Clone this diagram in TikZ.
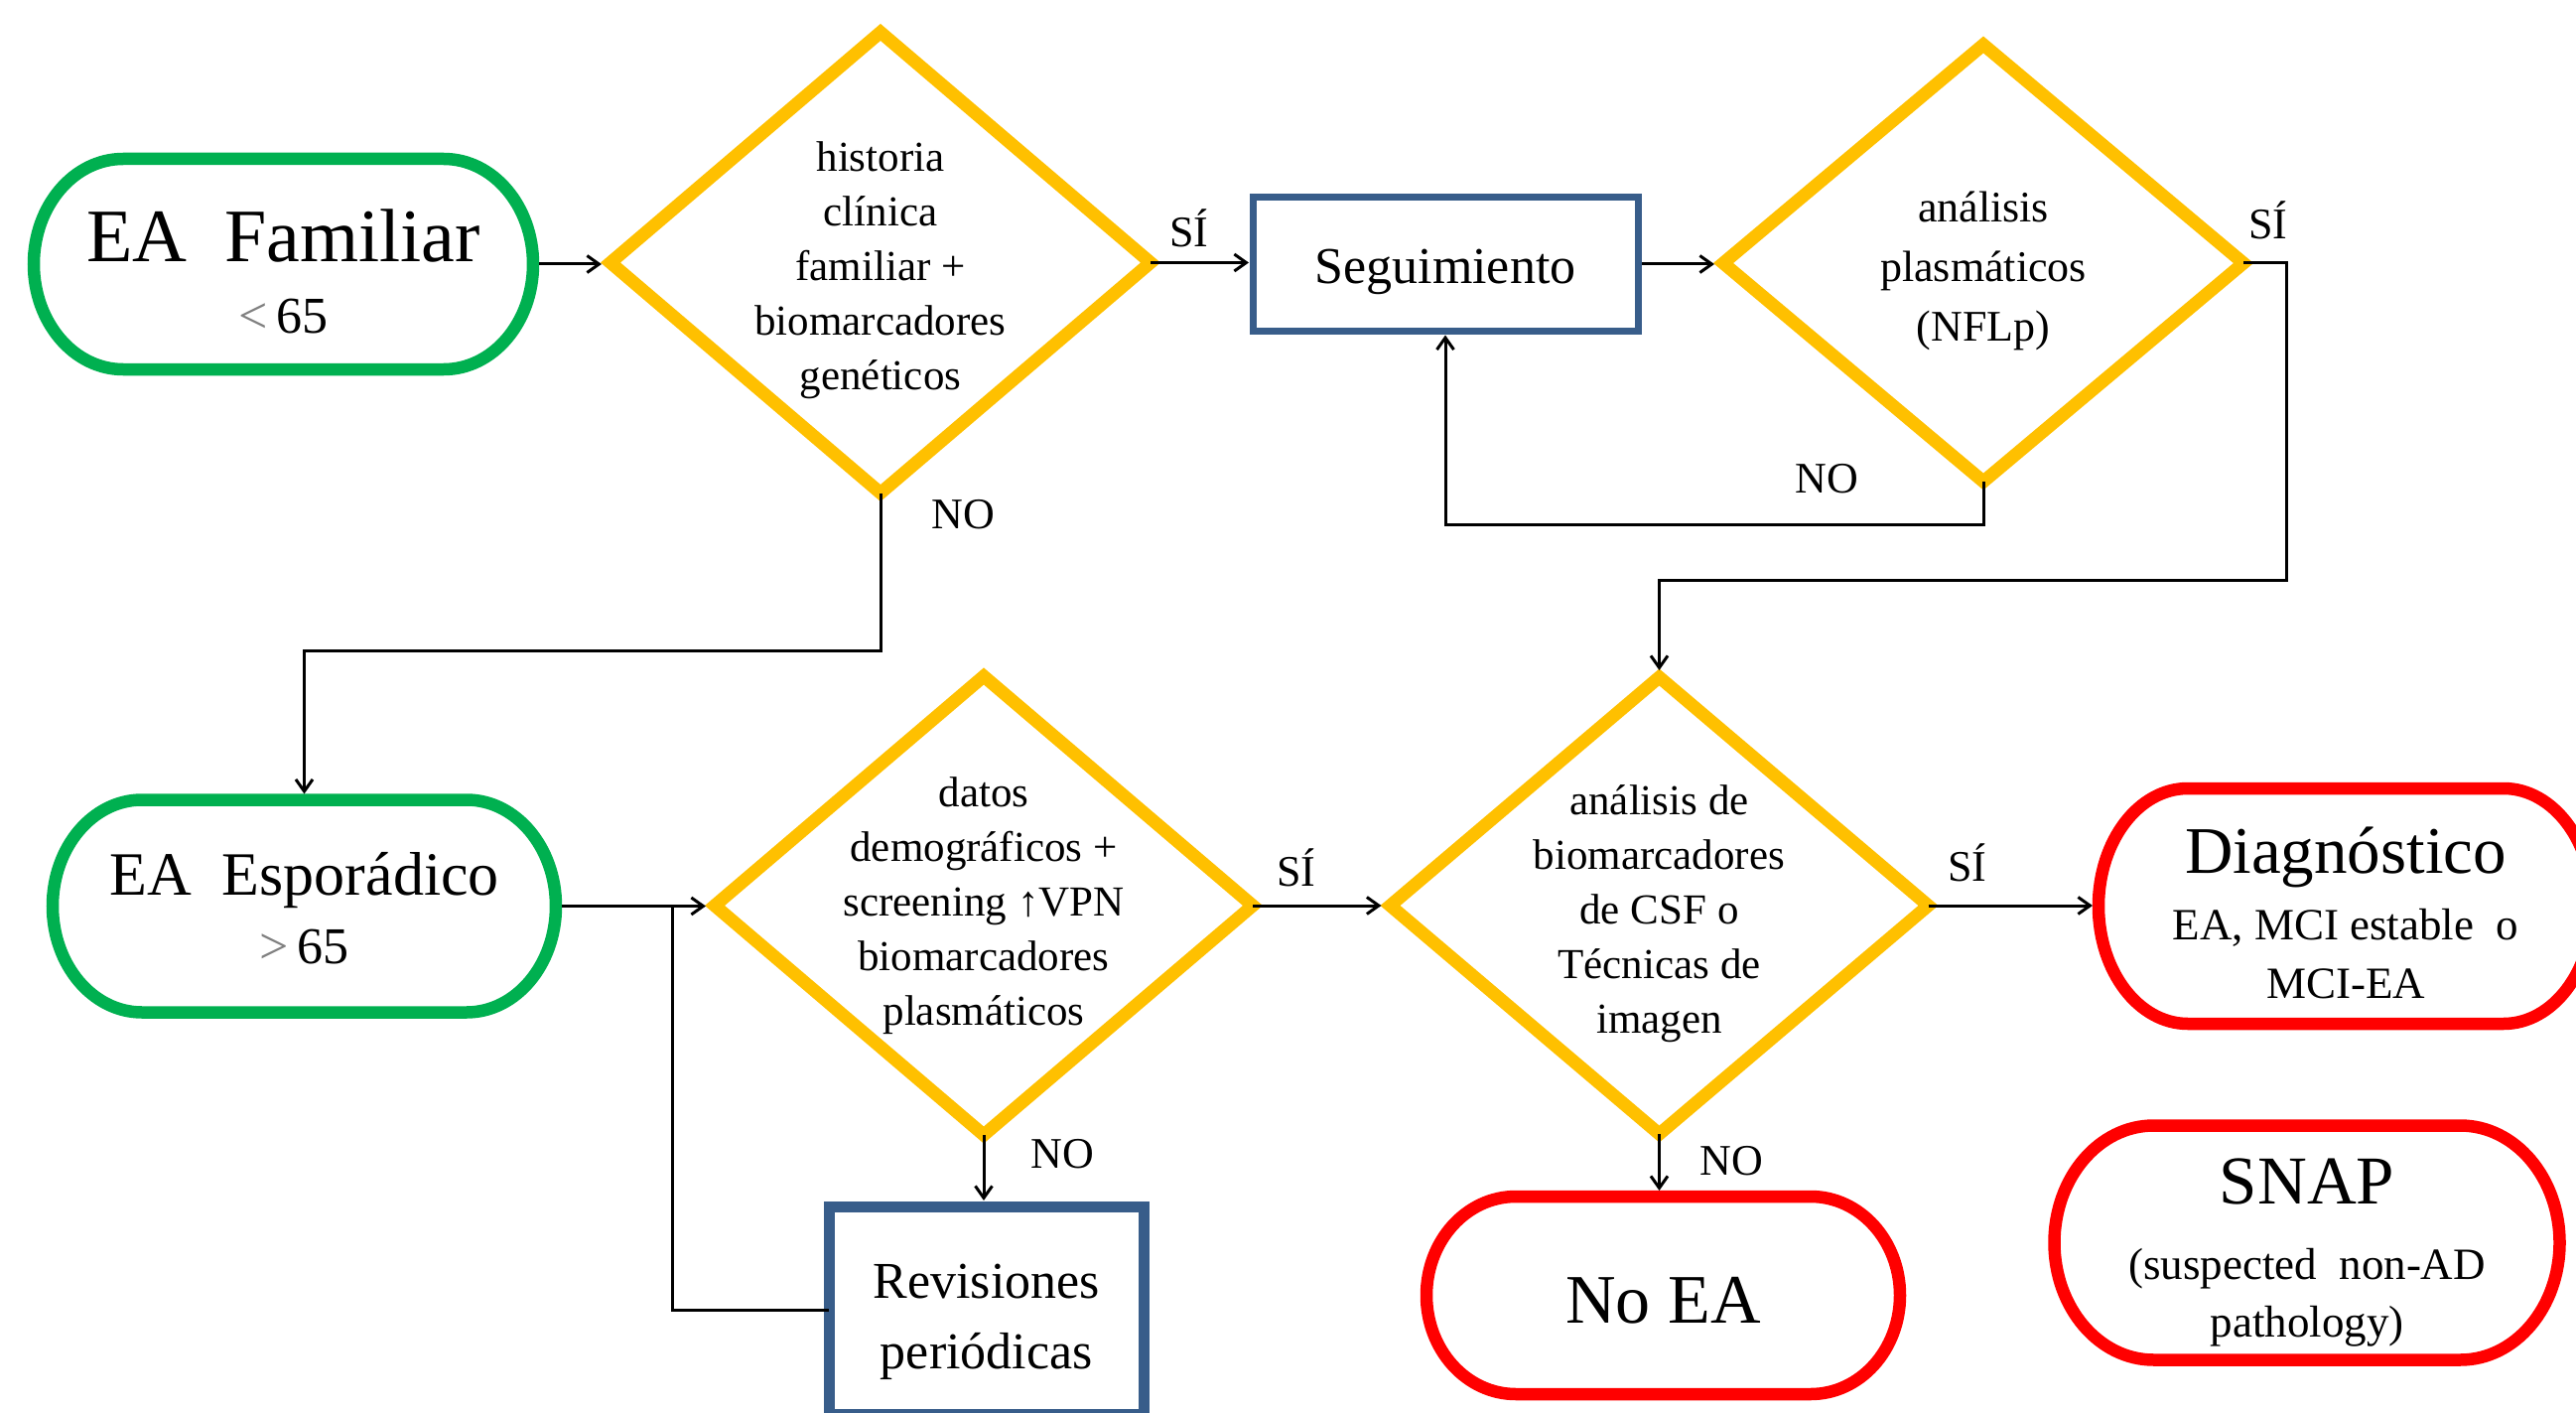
\documentclass[tikz,border=0pt]{standalone}
\usepackage{fontspec}
\setmainfont{Liberation Serif}
\usetikzlibrary{shapes.geometric, arrows.meta, calc}
\definecolor{cgreen}{HTML}{00B050}
\definecolor{cyellow}{HTML}{FFC000}
\definecolor{cred}{HTML}{FF0000}
\definecolor{cblue}{HTML}{385D8A}
\newcommand{\drawterm}[4]{%
  \draw[#2, line width=12.5pt] ([xshift=#3]#1.north west) -- ([xshift=-#3]#1.north east)
    arc[start angle=90, end angle=-90, x radius=#3, y radius=#4]
    -- ([xshift=#3]#1.south west)
    arc[start angle=270, end angle=90, x radius=#3, y radius=#4] -- cycle;}
\tikzset{
  term/.style={rectangle, inner sep=0pt, outer sep=0pt},
  dia/.style={diamond, draw=cyellow, line width=13pt, inner sep=0pt, outer sep=0pt},
  dtext/.style={align=center, font=\fontsize{43}{55}\selectfont},
  ttext/.style={align=center, inner sep=0pt},
  box/.style={rectangle, draw=cblue, inner sep=0pt, outer sep=0pt},
  conn/.style={line width=3pt, -{Straight Barb[length=12pt,width=17pt]}},
  plain/.style={line width=3pt},
  lab/.style={font=\fontsize{44}{44}\selectfont, inner sep=0pt}
}
\begin{document}
\begin{tikzpicture}[x=1pt, y=1pt]
\useasboundingbox (0,0) rectangle (2595,-1423);
% nodes
\node[term, minimum width=503pt, minimum height=212pt,
  label={[ttext, yshift=-7pt, font=\fontsize{76}{72}\selectfont]center:{EA\ \ Familiar\\{\fontsize{52}{52}\selectfont\textcolor{gray}{<}\,65}}}] (famil) at (285.5,-266) {};
\node[dia, minimum width=544pt, minimum height=464pt,
  label={[dtext, yshift=-8pt]center:{historia\\clínica\\familiar +\\biomarcadores\\genéticos}}] (d1) at (887,-264.5) {};
\node[box, line width=7pt, minimum width=388pt, minimum height=135pt,
  label={[ttext, yshift=-8pt, font=\fontsize{52}{52}\selectfont]center:Seguimiento}] (seg) at (1456,-266) {};
\node[dia, minimum width=524pt, minimum height=440pt,
  label={[dtext, yshift=-8pt, font=\fontsize{44}{60}\selectfont]center:{análisis\\plasmáticos\\(NFLp)}}] (d2) at (1998,-265) {};
\node[term, minimum width=507pt, minimum height=214pt,
  label={[ttext, yshift=-2pt, font=\fontsize{62}{69}\selectfont]center:{EA\ \ Esporádico\\{\fontsize{52}{52}\selectfont\textcolor{gray}{>}\,65}}}] (espor) at (306.5,-912.5) {};
\node[dia, minimum width=542pt, minimum height=462pt,
  label={[dtext]center:{datos\\demográficos +\\screening ↑VPN\\biomarcadores\\plasmáticos}}] (d3) at (991,-912) {};
\node[dia, minimum width=542pt, minimum height=460pt,
  label={[dtext, yshift=-8pt]center:{análisis de\\biomarcadores\\de CSF o\\Técnicas de\\imagen}}] (d4) at (1671.5,-912) {};
\node[box, line width=11pt, minimum width=317pt, minimum height=209pt,
  label={[ttext, yshift=-12pt, font=\fontsize{52}{71}\selectfont]center:{Revisiones\\periódicas}}] (rev) at (993.75,-1319.5) {};
\node[term, minimum width=498pt, minimum height=237pt,
  label={[ttext, yshift=-7pt, font=\fontsize{45}{59}\selectfont]center:{{\fontsize{67}{67}\selectfont Diagnóstico}\\[8pt]EA, MCI estable\ \ o\\MCI-EA}}] (diag) at (2363,-912.5) {};
\node[term, minimum width=509pt, minimum height=236pt,
  label={[ttext, yshift=-10pt, font=\fontsize{45}{58}\selectfont]center:{{\fontsize{69}{69}\selectfont SNAP}\\[18pt](suspected\ \ non-AD\\pathology)}}] (snap) at (2324,-1251.5) {};
\node[term, minimum width=477pt, minimum height=199pt,
  label={[ttext, yshift=-5pt, font=\fontsize{70}{70}\selectfont]center:No EA}] (noea) at (1675.5,-1304.5) {};
% terminator outlines
\drawterm{famil}{cgreen}{90pt}{106pt}
\drawterm{espor}{cgreen}{90pt}{107pt}
\drawterm{diag}{cred}{90pt}{118.5pt}
\drawterm{snap}{cred}{100pt}{118pt}
\drawterm{noea}{cred}{90pt}{99.5pt}
% connectors
\draw[conn, shorten <=6pt, shorten >=9pt] (famil.east) -- (famil.east -| d1.west);
\draw[conn, shorten >=4pt] (d1.east) -- (d1.east -| seg.west);
\coordinate (k1) at (887,-655);
\draw[conn, shorten >=6pt] (d1.south) -- (k1) -| (espor.north);
\draw[conn, shorten <=4pt, shorten >=9pt] (seg.east) -- (seg.east -| d2.west);
\coordinate (k2) at (1998,-528);
\draw[conn, shorten >=4pt] (d2.south) -- (k2) -| (seg.south);
\coordinate (k3) at (2303,-584);
\draw[conn, shorten >=7pt] (d2.east) -| (k3) -| (d4.north);
\draw[conn, shorten <=6pt, shorten >=9pt] (espor.east) -- (espor.east -| d3.west);
\coordinate (k4) at (677,-912);
\draw[plain] (rev.west) -| (k4);
\draw[conn, shorten >=6pt] (d3.south) -- (d3.south |- rev.north);
\draw[conn, shorten >=9pt] (d3.east) -- (d4.west);
\draw[conn, shorten >=6pt] (d4.east) -- (d4.east -| diag.west);
\draw[conn, shorten >=6pt] (d4.south) -- (d4.south |- noea.north);
% labels
\node[lab] (l1) at (1198,-230) {SÍ};
\node[lab] (l2) at (970,-518) {NO};
\node[lab] (l3) at (1840,-482) {NO};
\node[lab] (l4) at (2285,-222) {SÍ};
\node[lab] (l5) at (1306,-874) {SÍ};
\node[lab] (l6) at (1070,-1162) {NO};
\node[lab] (l7) at (1982,-869) {SÍ};
\node[lab] (l8) at (1744,-1169) {NO};
\end{tikzpicture}
\end{document}
